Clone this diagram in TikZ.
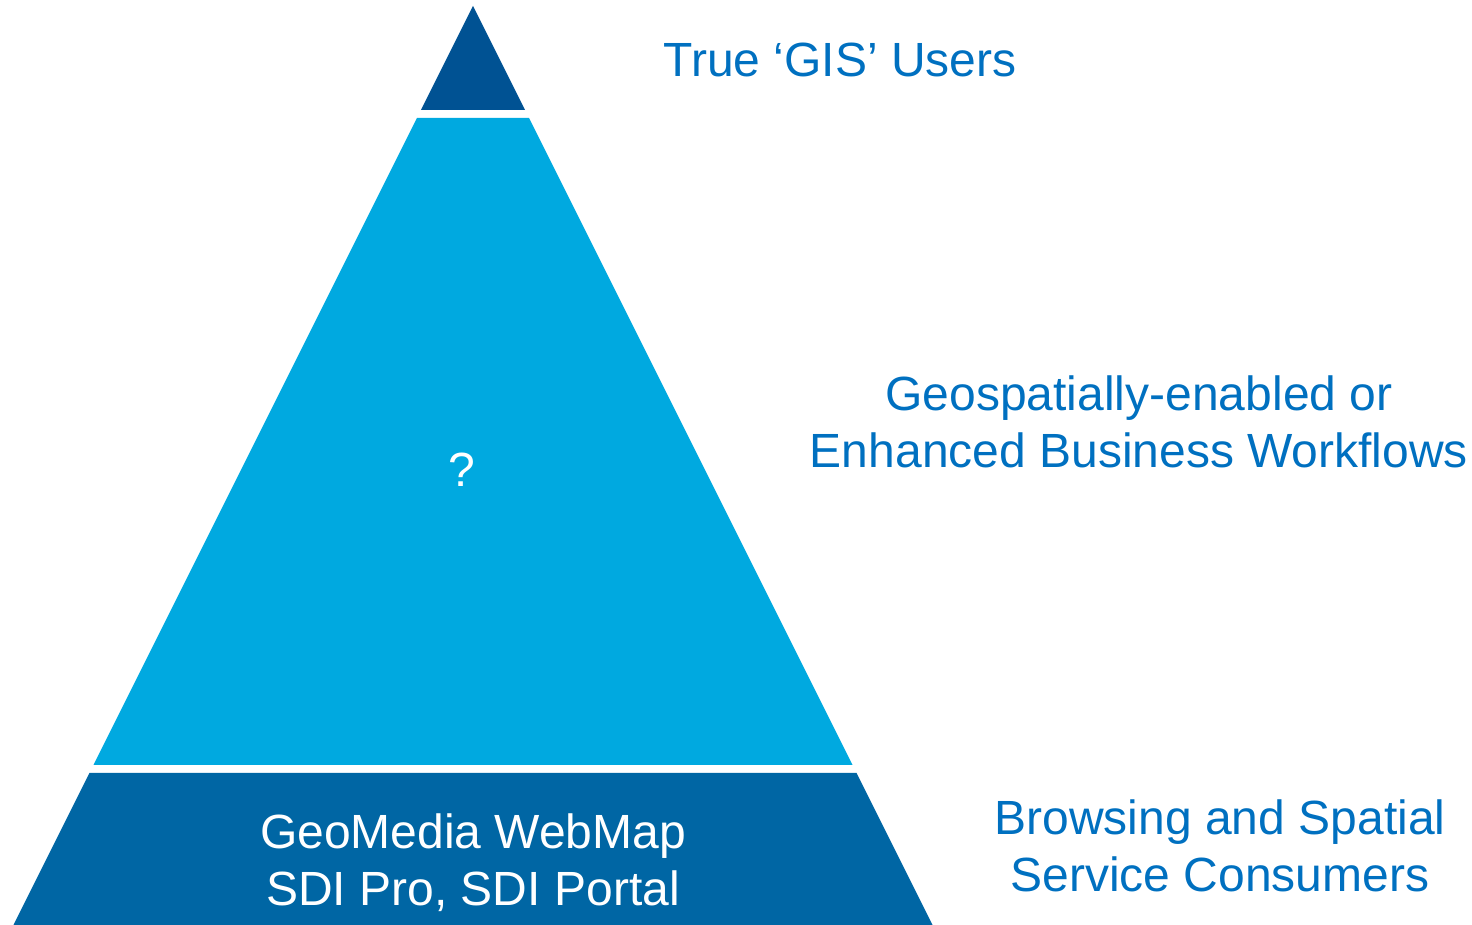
\documentclass[tikz,border=0pt]{standalone}
\usepackage{fontspec}
\setmainfont{Liberation Sans}
\usepackage{xcolor}
\usetikzlibrary{positioning}

\definecolor{tipblue}{HTML}{005293}
\definecolor{midblue}{HTML}{00A9E0}
\definecolor{baseblue}{HTML}{0066A4}
\definecolor{labelblue}{HTML}{0070C0}

\begin{document}
\begin{tikzpicture}[x=1pt, y=1pt,
    levellabel/.style={text=labelblue, align=center, font=\fontsize{48}{57}\selectfont},
    inlabel/.style={text=white, align=center, font=\fontsize{48}{57}\selectfont}]
  \useasboundingbox (0,0) rectangle (1472,925);

  % Pyramid levels
  \fill[tipblue] (473,919) -- (525,815) -- (421,815) -- cycle;
  \fill[midblue] (417,807) -- (529,807) -- (852.5,160) -- (93.5,160) -- cycle;
  \fill[baseblue] (89.5,152) -- (856.5,152) -- (932.5,0) -- (13.5,0) -- cycle;

  % Text inside
  \node[inlabel] (mid) at (462,455) {?};
  \node[inlabel] (base) at (473,62) {GeoMedia WebMap\\SDI Pro, SDI Portal};

  % Labels
  \node[levellabel] (ltip) at (840,865) {True ‘GIS’ Users};
  \node[levellabel] (lmid) at (1139,503) {Geospatially-enabled or\\Enhanced Business Workflows};
  \node[levellabel] (lbase) at (1220,79) {Browsing and Spatial\\Service Consumers};
\end{tikzpicture}
\end{document}
